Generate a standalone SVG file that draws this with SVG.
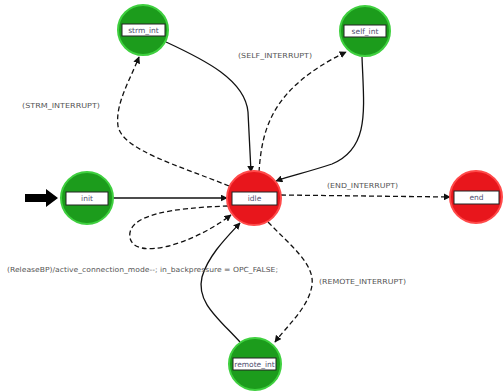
<svg xmlns="http://www.w3.org/2000/svg" width="503" height="391" viewBox="0 0 503 391">
  <style>
    .green { fill: #1c9c1c; stroke: #3fd03f; stroke-width: 2; }
    .red { fill: #e8161c; stroke: #ff4a4a; stroke-width: 2; }
    .box { fill: #ffffff; stroke: #222222; stroke-width: 1; }
    .name { font-family: "DejaVu Sans", sans-serif; font-size: 7.5px; fill: #505070; text-anchor: middle; dominant-baseline: central; }
    .lbl { font-family: "DejaVu Sans", sans-serif; font-size: 7px; fill: #555555; }
    .solid { fill: none; stroke: #111111; stroke-width: 1.3; marker-end: url(#arrow); }
    .dash { fill: none; stroke: #111111; stroke-width: 1.3; stroke-dasharray: 5 3; marker-end: url(#arrow); }
  </style>
  <defs>
    <marker id="arrow" viewBox="0 0 10 10" refX="9" refY="5" markerWidth="7" markerHeight="7" markerUnits="userSpaceOnUse" orient="auto">
      <path d="M0,0 L10,5 L0,10 z" fill="#111111"/>
    </marker>
  </defs>
  <rect width="503" height="391" fill="#ffffff"/>

  <g id="connectors">
    <!-- initial-state pointer -->
    <path d="M25,194 L46,194 L46,189 L58,198 L46,207 L46,202 L25,202 z" fill="#000000"/>
    <!-- init -> idle -->
    <path class="solid" d="M113,198 L227,198"/>
    <!-- idle -> strm_int -->
    <path class="dash" d="M229,186 C180,166 122,150 118,126 C115,104 130,80 139,57"/>
    <!-- strm_int -> idle -->
    <path class="solid" d="M166,42 C205,60 245,80 248,112 L251,172"/>
    <!-- idle -> self_int -->
    <path class="dash" d="M259,172 C262,128 272,88 346,52"/>
    <!-- self_int -> idle -->
    <path class="solid" d="M362,57 C364,110 370,148 332,164 C308,172 290,176 276,181"/>
    <!-- idle -> end -->
    <path class="dash" d="M281,195 L450,197"/>
    <!-- idle -> remote_int -->
    <path class="dash" d="M268,222 C290,245 315,264 312,285 C309,307 287,326 275,342"/>
    <!-- remote_int -> idle -->
    <path class="solid" d="M240,342 C218,318 196,302 202,277 C208,256 226,238 240,223"/>
    <!-- idle self loop -->
    <path class="dash" d="M228,206 C170,208 126,215 130,238 C135,260 190,246 231,215"/>
  </g>

  <g id="labels">
    <text class="lbl" x="22" y="108" textLength="78" lengthAdjust="spacingAndGlyphs">(STRM_INTERRUPT)</text>
    <text class="lbl" x="238" y="58" textLength="74" lengthAdjust="spacingAndGlyphs">(SELF_INTERRUPT)</text>
    <text class="lbl" x="327" y="188" textLength="71" lengthAdjust="spacingAndGlyphs">(END_INTERRUPT)</text>
    <text class="lbl" x="319" y="284" textLength="87" lengthAdjust="spacingAndGlyphs">(REMOTE_INTERRUPT)</text>
    <text class="lbl" x="7" y="272" textLength="271" lengthAdjust="spacingAndGlyphs">(ReleaseBP)/active_connection_mode--; in_backpressure = OPC_FALSE;</text>
  </g>

  <g id="strm_int">
    <circle class="green" cx="143" cy="30" r="25"/>
    <rect class="box" x="122" y="24" width="43" height="12"/>
    <text class="name" x="143.5" y="30">strm_int</text>
  </g>
  <g id="self_int">
    <circle class="green" cx="365" cy="31" r="25"/>
    <rect class="box" x="344" y="25" width="42" height="12"/>
    <text class="name" x="365" y="31">self_int</text>
  </g>
  <g id="init">
    <circle class="green" cx="87" cy="198" r="26"/>
    <rect class="box" x="66" y="192" width="42" height="13"/>
    <text class="name" x="87" y="198.5">init</text>
  </g>
  <g id="idle">
    <circle class="red" cx="254" cy="198" r="27"/>
    <rect class="box" x="232" y="192" width="45" height="13"/>
    <text class="name" x="254.5" y="198.5">idle</text>
  </g>
  <g id="end">
    <circle class="red" cx="476" cy="197" r="26"/>
    <rect class="box" x="454" y="191" width="45" height="13"/>
    <text class="name" x="476.5" y="197.5">end</text>
  </g>
  <g id="remote_int">
    <circle class="green" cx="255" cy="364" r="26"/>
    <rect class="box" x="233" y="358" width="43" height="12"/>
    <text class="name" x="254.5" y="364">remote_int</text>
  </g>
</svg>
